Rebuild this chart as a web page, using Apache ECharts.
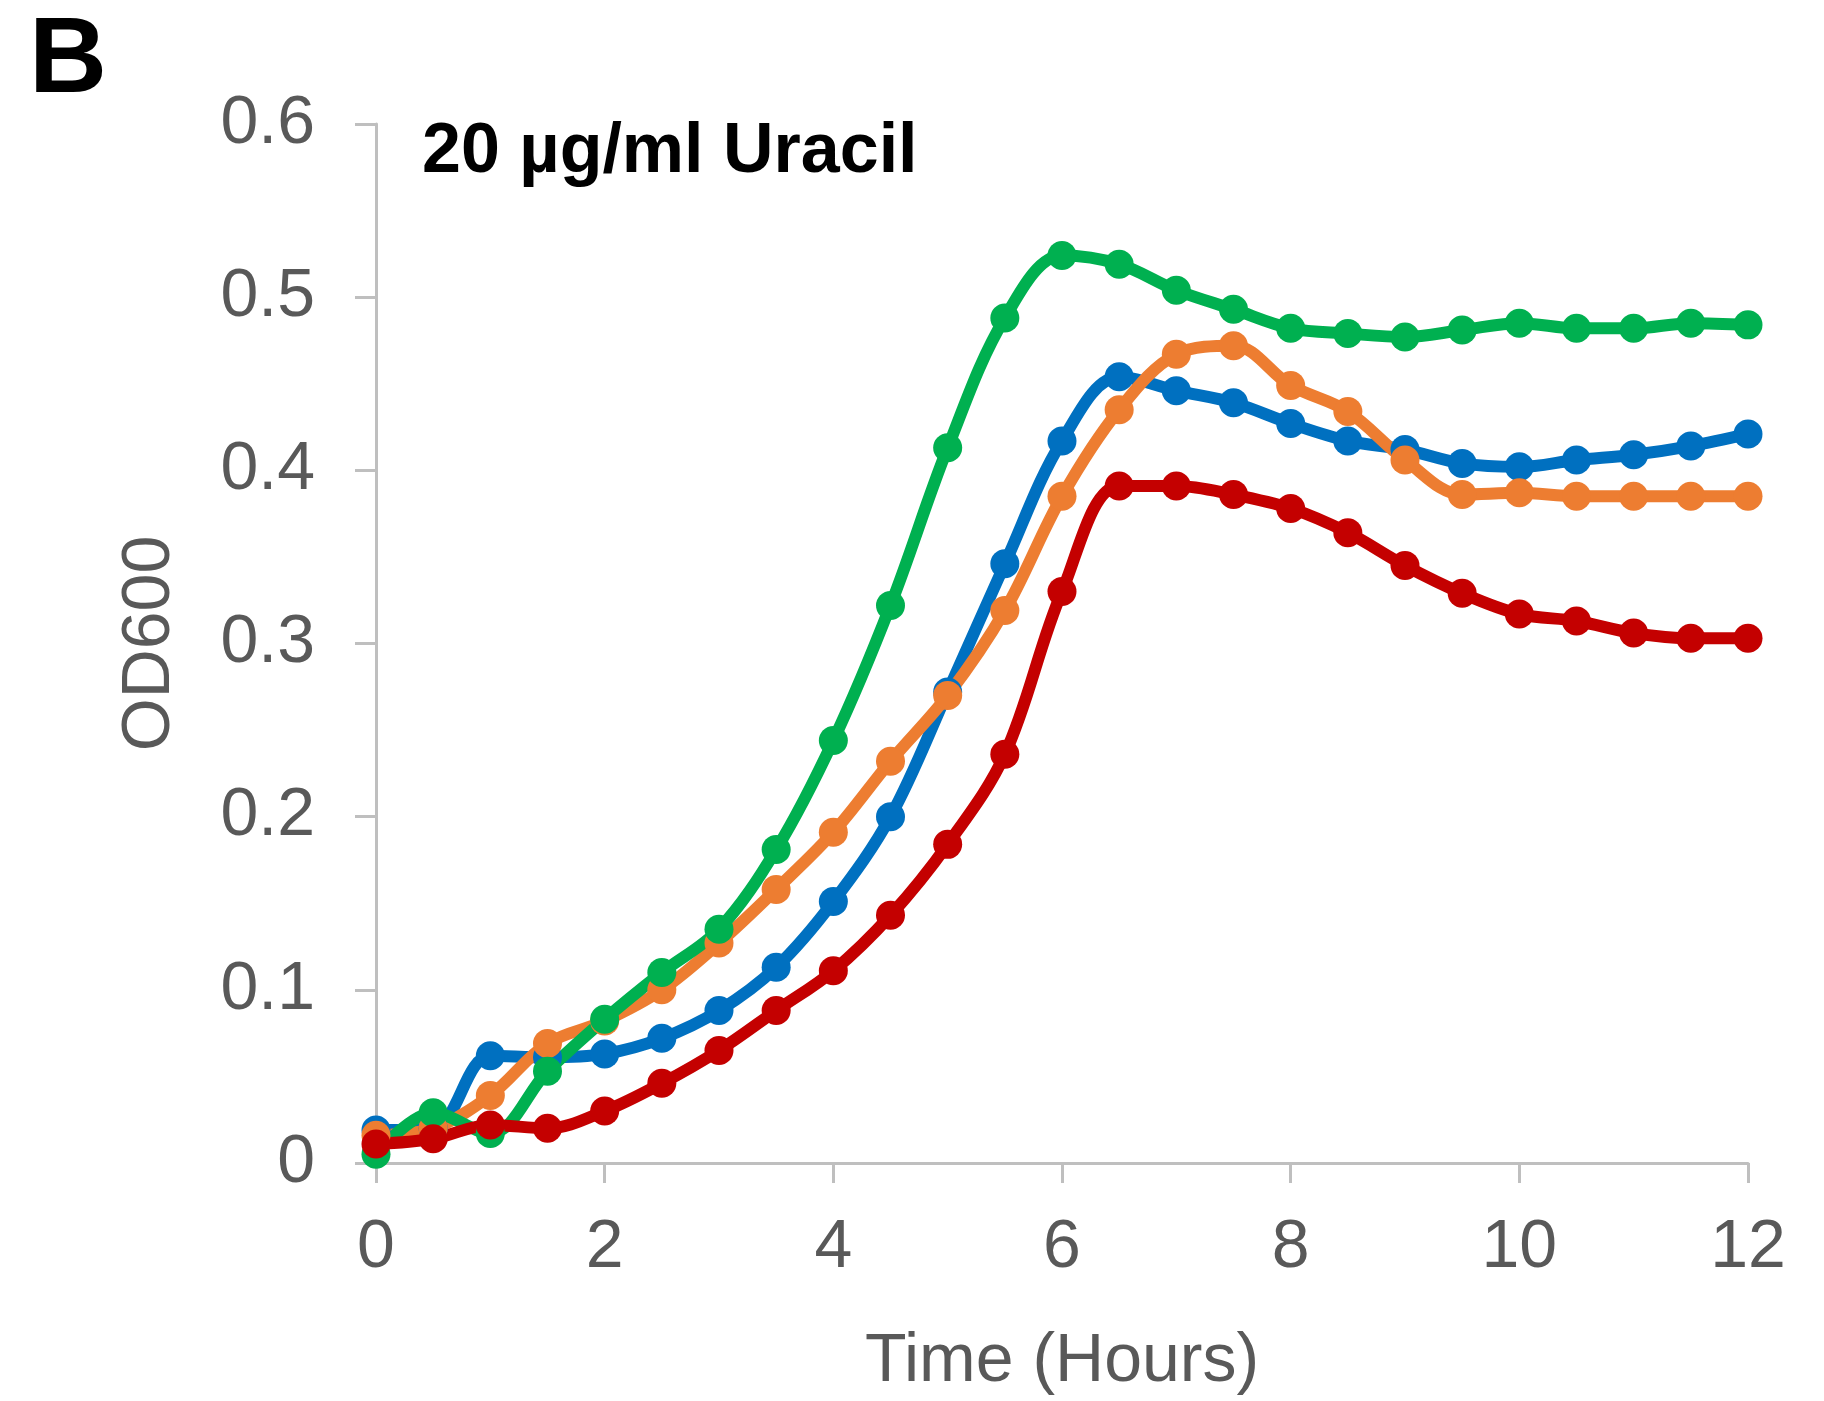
<!DOCTYPE html>
<html>
<head>
<meta charset="utf-8">
<title>OD600 growth curves – 20 µg/ml Uracil</title>
<script src="https://cdn.jsdelivr.net/npm/echarts@6/dist/echarts.min.js"></script>
<style>
  html, body { margin: 0; padding: 0; background: #ffffff; }
  #chart { width: 1824px; height: 1401px; }
</style>
</head>
<body>
<div id="chart"></div>
<script>
// Sampling times (hours)
const hours = [0, 0.5, 1, 1.5, 2, 2.5, 3, 3.5, 4, 4.5, 5, 5.5, 6, 6.5, 7, 7.5, 8, 8.5, 9, 9.5, 10, 10.5, 11, 11.5, 12];

// OD600 readings per strain
const blueOD = [0.019, 0.020, 0.062, 0.061, 0.063, 0.072, 0.088, 0.113, 0.151, 0.200, 0.272, 0.346, 0.417, 0.454, 0.446, 0.439, 0.427, 0.417, 0.412, 0.404, 0.402, 0.406, 0.409, 0.414, 0.421];
const orangeOD = [0.016, 0.020, 0.039, 0.069, 0.082, 0.100, 0.127, 0.158, 0.191, 0.232, 0.270, 0.319, 0.385, 0.435, 0.467, 0.472, 0.449, 0.434, 0.406, 0.386, 0.387, 0.385, 0.385, 0.385, 0.385];
const greenOD = [0.005, 0.029, 0.017, 0.053, 0.083, 0.110, 0.135, 0.181, 0.244, 0.322, 0.413, 0.488, 0.524, 0.519, 0.504, 0.493, 0.482, 0.479, 0.477, 0.481, 0.485, 0.482, 0.482, 0.485, 0.484];
const redOD = [0.011, 0.014, 0.022, 0.020, 0.030, 0.046, 0.065, 0.088, 0.111, 0.143, 0.184, 0.236, 0.330, 0.391, 0.391, 0.386, 0.378, 0.364, 0.345, 0.329, 0.317, 0.313, 0.306, 0.303, 0.303];

// Axis ticks
const xTicks = [0, 2, 4, 6, 8, 10, 12];
const yTicks = [0, 0.1, 0.2, 0.3, 0.4, 0.5, 0.6];

const panelLetter = 'B';
const panelTitle = '20 µg/ml Uracil';
const xName = 'Time (Hours)';
const yName = 'OD600';

const FONT = '"Liberation Sans", Arial, Helvetica, sans-serif';
const axisGrey = '#bfbfbf';
const labelGrey = '#595959';

function pairs(values) {
  return hours.map((h, i) => [h, values[i]]);
}

function curve(name, color, values) {
  return {
    name: name,
    type: 'line',
    data: pairs(values),
    smooth: 0.35,
    symbol: 'circle',
    symbolSize: 29,
    showSymbol: true,
    lineStyle: { color: color, width: 12 },
    itemStyle: { color: color, borderColor: color, borderWidth: 0 },
    emphasis: { disabled: true }
  };
}

const chart = echarts.init(document.getElementById('chart'), null, { renderer: 'canvas' });

chart.setOption({
  animation: false,
  backgroundColor: '#ffffff',
  grid: { left: 376, right: 76, top: 124, bottom: 234, containLabel: false },
  xAxis: {
    type: 'value',
    min: xTicks[0],
    max: xTicks[xTicks.length - 1],
    interval: xTicks[1] - xTicks[0],
    name: xName,
    nameLocation: 'middle',
    nameGap: 165,
    nameTextStyle: { fontFamily: FONT, fontSize: 68, color: labelGrey },
    axisLine: { show: true, onZero: false, lineStyle: { color: axisGrey, width: 3 } },
    axisTick: { show: true, inside: false, length: 20, lineStyle: { color: axisGrey, width: 3 } },
    axisLabel: { margin: 51, fontFamily: FONT, fontSize: 68, color: labelGrey },
    splitLine: { show: false }
  },
  yAxis: {
    type: 'value',
    min: yTicks[0],
    max: yTicks[yTicks.length - 1],
    interval: 0.1,
    name: yName,
    nameLocation: 'middle',
    nameGap: 192,
    nameTextStyle: { fontFamily: FONT, fontSize: 68, color: labelGrey },
    axisLine: { show: true, lineStyle: { color: axisGrey, width: 3 } },
    axisTick: { show: true, inside: false, length: 21, lineStyle: { color: axisGrey, width: 3 } },
    axisLabel: { margin: 61, fontFamily: FONT, fontSize: 68, color: labelGrey },
    splitLine: { show: false }
  },
  title: [
    {
      text: panelLetter,
      left: 29,
      top: 8,
      textStyle: { fontFamily: FONT, fontSize: 108, fontWeight: 'bold', color: '#000000' },
      padding: 0
    },
    {
      text: panelTitle,
      left: 422,
      top: 118,
      textStyle: { fontFamily: FONT, fontSize: 70, fontWeight: 'bold', color: '#000000' },
      padding: 0
    }
  ],
  series: [
    curve('Blue', '#0070c0', blueOD),
    curve('Orange', '#ed7d31', orangeOD),
    curve('Green', '#00b050', greenOD),
    curve('Red', '#c40000', redOD)
  ]
});
</script>
</body>
</html>
